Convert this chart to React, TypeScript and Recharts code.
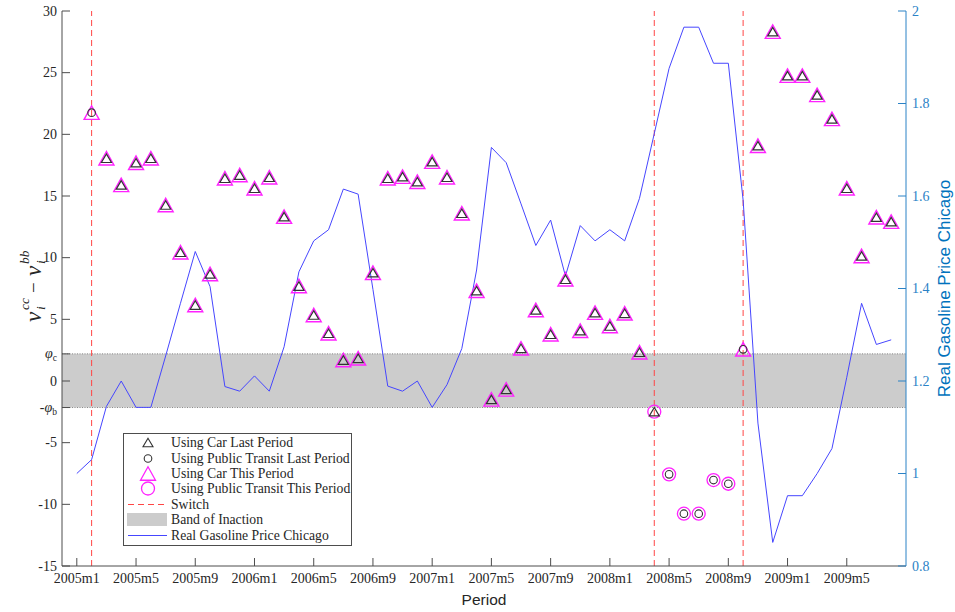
import React from 'react';
import {
  ComposedChart,
  Line,
  Scatter,
  XAxis,
  YAxis,
  ReferenceArea,
  ReferenceLine,
  Legend,
} from 'recharts';

// band of inaction bounds
const PHI_C = 2.2;
const PHI_B = 2.15;

// real gasoline price Chicago, 2005m1 .. 2009m8
const gasPrice = [
  1.0, 1.03, 1.145, 1.2, 1.143, 1.143, 1.254, 1.368, 1.48, 1.404,
  1.188, 1.178, 1.211, 1.178, 1.274, 1.436, 1.503, 1.527, 1.615, 1.604,
  1.398, 1.189, 1.178, 1.2, 1.143, 1.192, 1.27, 1.44, 1.705, 1.672,
  1.583, 1.493, 1.548, 1.427, 1.536, 1.503, 1.527, 1.503, 1.595, 1.735,
  1.876, 1.965, 1.965, 1.887, 1.887, 1.591, 1.109, 0.851, 0.952, 0.952,
  1.0, 1.054, 1.208, 1.368, 1.279, 1.289,
];

// nu_cc - nu_bb, 2005m2 .. 2009m8
const nuDiff = [
  21.76, 18.06, 15.9, 17.7, 18.06, 14.27, 10.44, 6.16, 8.68, 16.44,
  16.7, 15.63, 16.52, 13.33, 7.7, 5.35, 3.87, 1.7, 1.84, 8.78,
  16.44, 16.57, 16.16, 17.79, 16.52, 13.6, 7.32, -1.49, -0.68, 2.65,
  5.76, 3.79, 8.25, 4.08, 5.54, 4.46, 5.49, 2.33, -2.49, -7.57,
  -10.76, -10.76, -8.03, -8.33, 2.57, 19.08, 28.33, 24.76, 24.76, 23.2,
  21.25, 15.63, 10.14, 13.28, 12.92,
];

// C = car, T = public transit (same periods as nuDiff)
const lastMode = [
  'T', 'C', 'C', 'C', 'C', 'C', 'C', 'C', 'C', 'C',
  'C', 'C', 'C', 'C', 'C', 'C', 'C', 'C', 'C', 'C',
  'C', 'C', 'C', 'C', 'C', 'C', 'C', 'C', 'C', 'C',
  'C', 'C', 'C', 'C', 'C', 'C', 'C', 'C', 'C', 'T',
  'T', 'T', 'T', 'T', 'T', 'C', 'C', 'C', 'C', 'C',
  'C', 'C', 'C', 'C', 'C',
];
const thisMode = [
  'C', 'C', 'C', 'C', 'C', 'C', 'C', 'C', 'C', 'C',
  'C', 'C', 'C', 'C', 'C', 'C', 'C', 'C', 'C', 'C',
  'C', 'C', 'C', 'C', 'C', 'C', 'C', 'C', 'C', 'C',
  'C', 'C', 'C', 'C', 'C', 'C', 'C', 'C', 'T', 'T',
  'T', 'T', 'T', 'T', 'C', 'C', 'C', 'C', 'C', 'C',
  'C', 'C', 'C', 'C', 'C',
];

const tickPeriods = [1, 5, 9, 13, 17, 21, 25, 29, 33, 37, 41, 45, 49, 53];
const tickLabels = [
  '2005m1', '2005m5', '2005m9', '2006m1', '2006m5', '2006m9', '2007m1',
  '2007m5', '2007m9', '2008m1', '2008m5', '2008m9', '2009m1', '2009m5',
];
const leftTicks = [-15, -10, -5, -PHI_B, 0, PHI_C, 5, 10, 15, 20, 25, 30];
const rightTicks = [0.8, 1, 1.2, 1.4, 1.6, 1.8, 2];

const SERIF = "'Liberation Serif', 'Times New Roman', serif";
const SANS = "'Liberation Sans', Arial, sans-serif";
const TEXT = '#262626';
const AXIS = '#4d4d4d';
const BLUE = '#0072BD';
const BLUE_TICK = '#2a82c6';
const MAGENTA = '#ff22ff';
const DARK = '#333333';
const RED = '#ff4545';
const LINE_BLUE = '#4646ff';

const gasRows = gasPrice.map((g, i) => ({ t: i + 1, gas: g }));
const points = nuDiff.map((v, i) => ({ t: i + 2, v, last: lastMode[i], now: thisMode[i] }));
const carLast = points.filter((p) => p.last === 'C');
const transitLast = points.filter((p) => p.last === 'T');
const carThis = points.filter((p) => p.now === 'C');
const transitThis = points.filter((p) => p.now === 'T');
const switches = points.filter((p) => p.last !== p.now).map((p) => p.t);

function trianglePath(cx: number, cy: number, w: number, h: number) {
  return `M${cx},${cy - h / 2}L${cx - w / 2},${cy + h / 2}L${cx + w / 2},${cy + h / 2}Z`;
}

const bigTriangle = (p: any) => (
  <path d={trianglePath(p.cx, p.cy, 15, 13.5)} fill="none" stroke={MAGENTA} strokeWidth={1.4} />
);
const smallTriangle = (p: any) => (
  <path d={trianglePath(p.cx, p.cy, 10, 8.5)} fill="none" stroke={DARK} strokeWidth={1.2} />
);
const bigCircle = (p: any) => (
  <circle cx={p.cx} cy={p.cy} r={6.5} fill="none" stroke={MAGENTA} strokeWidth={1.3} />
);
const smallCircle = (p: any) => (
  <circle cx={p.cx} cy={p.cy} r={3.8} fill="none" stroke={DARK} strokeWidth={1.1} />
);

function BottomTick({ x, y, payload }: any) {
  const label = tickLabels[tickPeriods.indexOf(payload.value)];
  return (
    <g>
      <line x1={x} x2={x} y1={y} y2={y - 8} stroke={AXIS} />
      <text x={x} y={y + 17} textAnchor="middle" fontFamily={SERIF} fontSize={14} fill={TEXT}>
        {label}
      </text>
    </g>
  );
}

function TopTick({ x, y }: any) {
  return <line x1={x} x2={x} y1={y} y2={y + 8} stroke={AXIS} />;
}

function LeftTick({ x, y, payload }: any) {
  const v = payload.value;
  let content: React.ReactNode = String(v);
  if (v === PHI_C) {
    content = (
      <>
        <tspan fontStyle="italic">φ</tspan>
        <tspan fontSize={9.5} dy={3}>c</tspan>
      </>
    );
  } else if (v === -PHI_B) {
    content = (
      <>
        <tspan>-</tspan>
        <tspan fontStyle="italic">φ</tspan>
        <tspan fontSize={9.5} dy={3}>b</tspan>
      </>
    );
  }
  return (
    <g>
      <line x1={x} x2={x + 8} y1={y} y2={y} stroke={AXIS} />
      <text x={x - 5} y={y + 4.5} textAnchor="end" fontFamily={SERIF} fontSize={14} fill={TEXT}>
        {content}
      </text>
    </g>
  );
}

function RightTick({ x, y, payload }: any) {
  return (
    <g>
      <line x1={x} x2={x - 8} y1={y} y2={y} stroke={BLUE_TICK} />
      <text x={x + 6} y={y + 4.5} textAnchor="start" fontFamily={SERIF} fontSize={14} fill={BLUE_TICK}>
        {String(payload.value)}
      </text>
    </g>
  );
}

function LeftLabel() {
  const main = { fontFamily: SERIF, fontStyle: 'italic' as const, fontSize: 23, fill: TEXT };
  const script = { fontFamily: SERIF, fontStyle: 'italic' as const, fontSize: 13.5, fill: TEXT };
  return (
    <g transform="translate(41,284) rotate(-90)">
      <text x={-38} y={0} {...main}>ν</text>
      <text x={-26} y={-12} {...script}>cc</text>
      <text x={-26} y={4} {...script}>i</text>
      <text x={-9} y={-1} fontFamily={SERIF} fontSize={19} fill={TEXT}>−</text>
      <text x={8} y={0} {...main}>ν</text>
      <text x={20} y={-12} {...script}>bb</text>
      <text x={20} y={4} {...script}>i</text>
    </g>
  );
}

function RightLabel({ viewBox }: any) {
  const cx = viewBox.x + 44;
  const cy = viewBox.y + viewBox.height / 2;
  return (
    <text
      x={cx}
      y={cy}
      transform={`rotate(-90, ${cx}, ${cy})`}
      textAnchor="middle"
      fontFamily={SANS}
      fontSize={17}
      fill={BLUE}
    >
      Real Gasoline Price Chicago
    </text>
  );
}

function PeriodLabel({ viewBox }: any) {
  return (
    <text
      x={viewBox.x + viewBox.width / 2}
      y={605}
      textAnchor="middle"
      fontFamily={SANS}
      fontSize={15.5}
      fill={TEXT}
    >
      Period
    </text>
  );
}

const legendRows = [
  { kind: 'carLast', label: 'Using Car Last Period' },
  { kind: 'transitLast', label: 'Using Public Transit Last Period' },
  { kind: 'carThis', label: 'Using Car This Period' },
  { kind: 'transitThis', label: 'Using Public Transit This Period' },
  { kind: 'switch', label: 'Switch' },
  { kind: 'band', label: 'Band of Inaction' },
  { kind: 'gas', label: 'Real Gasoline Price Chicago' },
];

function LegendSymbol({ kind }: { kind: string }) {
  const cx = 24;
  const cy = 7.5;
  let mark: React.ReactNode = null;
  if (kind === 'carLast') mark = <path d={trianglePath(cx, cy, 10, 8.5)} fill="none" stroke={DARK} strokeWidth={1.1} />;
  if (kind === 'transitLast') mark = <circle cx={cx} cy={cy} r={3.8} fill="none" stroke={DARK} strokeWidth={1.1} />;
  if (kind === 'carThis') mark = <path d={trianglePath(cx, cy, 15, 13.5)} fill="none" stroke={MAGENTA} strokeWidth={1.3} />;
  if (kind === 'transitThis') mark = <circle cx={cx} cy={cy} r={6.5} fill="none" stroke={MAGENTA} strokeWidth={1.3} />;
  if (kind === 'switch') mark = <line x1={4} x2={43} y1={cy} y2={cy} stroke={RED} strokeDasharray="6 4" />;
  if (kind === 'band') mark = <rect x={3} y={1} width={40} height={13} fill="#cccccc" />;
  if (kind === 'gas') mark = <line x1={4} x2={43} y1={cy} y2={cy} stroke={LINE_BLUE} />;
  return (
    <svg width={46} height={15} style={{ display: 'block', overflow: 'visible' }}>
      {mark}
    </svg>
  );
}

function LegendBox() {
  return (
    <div
      style={{
        border: `1px solid ${AXIS}`,
        background: '#fff',
        width: 229,
        padding: '1px 0 2px 0',
        boxSizing: 'border-box',
      }}
    >
      {legendRows.map((r) => (
        <div key={r.kind} style={{ display: 'flex', alignItems: 'center', height: 15.4 }}>
          <LegendSymbol kind={r.kind} />
          <span
            style={{
              fontFamily: SERIF,
              fontSize: 13.7,
              color: TEXT,
              marginLeft: 1,
              whiteSpace: 'nowrap',
              lineHeight: '15px',
            }}
          >
            {r.label}
          </span>
        </div>
      ))}
    </div>
  );
}

export default function App() {
  return (
    <div style={{ position: 'absolute', left: 0, top: 0, width: 955, height: 612, background: '#fff' }}>
      <ComposedChart
        width={955}
        height={612}
        data={gasRows}
        margin={{ top: 11, right: 0, bottom: 0, left: 0 }}
      >
        <XAxis
          dataKey="t"
          type="number"
          domain={[0, 57]}
          ticks={tickPeriods}
          interval={0}
          height={46}
          tickSize={0}
          tickMargin={0}
          tickLine={false}
          axisLine={{ stroke: AXIS }}
          tick={<BottomTick />}
          label={<PeriodLabel />}
        />
        <XAxis
          xAxisId="top"
          orientation="top"
          dataKey="t"
          type="number"
          domain={[0, 57]}
          ticks={tickPeriods}
          interval={0}
          height={0}
          tickSize={0}
          tickMargin={0}
          tickLine={false}
          axisLine={{ stroke: AXIS }}
          tick={<TopTick />}
        />
        <YAxis
          yAxisId="left"
          type="number"
          domain={[-15, 30]}
          ticks={leftTicks}
          interval={0}
          width={62}
          tickSize={0}
          tickMargin={0}
          tickLine={false}
          axisLine={{ stroke: AXIS }}
          tick={<LeftTick />}
          label={<LeftLabel />}
        />
        <YAxis
          yAxisId="right"
          orientation="right"
          type="number"
          domain={[0.8, 2]}
          ticks={rightTicks}
          interval={0}
          width={49}
          tickSize={0}
          tickMargin={0}
          tickLine={false}
          axisLine={{ stroke: BLUE_TICK }}
          tick={<RightTick />}
          label={<RightLabel />}
        />
        <ReferenceArea
          yAxisId="left"
          y1={-PHI_B}
          y2={PHI_C}
          fill="#cccccc"
          fillOpacity={1}
          stroke="none"
        />
        <ReferenceLine yAxisId="left" y={PHI_C} stroke="#8a8a8a" strokeDasharray="1 1.5" />
        <ReferenceLine yAxisId="left" y={-PHI_B} stroke="#8a8a8a" strokeDasharray="1 1.5" />
        {switches.map((t) => (
          <ReferenceLine key={t} yAxisId="left" x={t} stroke={RED} strokeDasharray="6 4" />
        ))}
        <Line
          yAxisId="right"
          dataKey="gas"
          type="linear"
          stroke={LINE_BLUE}
          strokeWidth={1}
          dot={false}
          activeDot={false}
          isAnimationActive={false}
        />
        <Scatter yAxisId="left" data={carThis} dataKey="v" shape={bigTriangle} isAnimationActive={false} />
        <Scatter yAxisId="left" data={transitThis} dataKey="v" shape={bigCircle} isAnimationActive={false} />
        <Scatter yAxisId="left" data={carLast} dataKey="v" shape={smallTriangle} isAnimationActive={false} />
        <Scatter yAxisId="left" data={transitLast} dataKey="v" shape={smallCircle} isAnimationActive={false} />
        <Legend
          layout="vertical"
          align="center"
          verticalAlign="middle"
          wrapperStyle={{ left: 123, top: 433, width: 230 }}
          content={() => <LegendBox />}
        />
      </ComposedChart>
    </div>
  );
}
